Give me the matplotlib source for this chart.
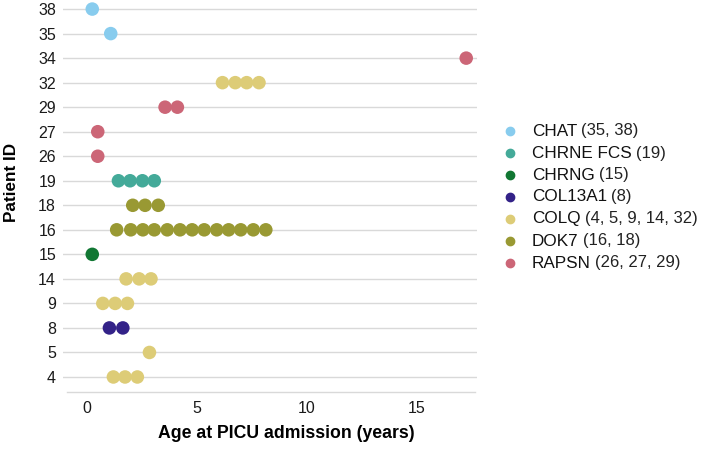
import matplotlib
matplotlib.use("Agg")
import matplotlib.pyplot as plt
from matplotlib.lines import Line2D

plt.rcParams['font.family'] = ['Liberation Sans', 'DejaVu Sans']

# Patient IDs (categorical y-axis, bottom to top)
patient_ids = ["4", "5", "8", "9", "14", "15", "16", "18", "19", "26", "27", "29", "32", "34", "35", "38"]

# Gene groups, legend labels, colours
genes = ["CHAT", "CHRNE FCS", "CHRNG", "COL13A1", "COLQ", "DOK7", "RAPSN"]
gene_labels = ["(35, 38)", "(19)", "(15)", "(8)", "(4, 5, 9, 14, 32)", "(16, 18)", "(26, 27, 29)"]
gene_colors = ["#88CCEE", "#44AA99", "#117733", "#332288", "#DDCC77", "#999933", "#CC6677"]

# Gene per patient
patient_gene = {
    "38": "CHAT", "35": "CHAT",
    "34": "RAPSN", "29": "RAPSN", "27": "RAPSN", "26": "RAPSN",
    "32": "COLQ", "14": "COLQ", "9": "COLQ", "5": "COLQ", "4": "COLQ",
    "19": "CHRNE FCS", "18": "DOK7", "16": "DOK7",
    "15": "CHRNG", "8": "COL13A1",
}

# Ages at PICU admission (years) per patient
ages_38 = [0.25]
ages_35 = [1.09]
ages_34 = [17.25]
ages_32 = [6.17, 6.75, 7.27, 7.83]
ages_29 = [3.56, 4.12]
ages_27 = [0.50]
ages_26 = [0.50]
ages_19 = [1.44, 1.97, 2.53, 3.07]
ages_18 = [2.09, 2.65, 3.25]
ages_16 = [1.36, 2.00, 2.55, 3.07, 3.66, 4.24, 4.79, 5.34, 5.91, 6.45, 7.00, 7.57, 8.14]
ages_15 = [0.25]
ages_14 = [1.79, 2.38, 2.92]
ages_9 = [0.73, 1.29, 1.85]
ages_8 = [1.03, 1.64]
ages_5 = [2.85]
ages_4 = [1.21, 1.74, 2.30]

patient_ages = {
    "38": ages_38, "35": ages_35, "34": ages_34, "32": ages_32, "29": ages_29,
    "27": ages_27, "26": ages_26, "19": ages_19, "18": ages_18, "16": ages_16,
    "15": ages_15, "14": ages_14, "9": ages_9, "8": ages_8, "5": ages_5, "4": ages_4,
}

x_ticks = [0, 5, 10, 15]

W, H = 704, 454
fig = plt.figure(figsize=(W / 100, H / 100), dpi=100)
ax_left, ax_right, ax_bottom = 63, 477, 391.7
ax = fig.add_axes([ax_left / W, 1 - ax_bottom / H, (ax_right - ax_left) / W, ax_bottom / H])

color_map = dict(zip(genes, gene_colors))
for i, pid in enumerate(patient_ids):
    ax.axhline(i, color="#d9d9d9", lw=1.0, zorder=0)
    ages = patient_ages[pid]
    ax.scatter(ages, [i] * len(ages), s=95, color=color_map[patient_gene[pid]],
               edgecolors="none", zorder=3, clip_on=False)

ax.set_yticks(range(len(patient_ids)))
ax.set_yticklabels(patient_ids)
ax.set_xticks(x_ticks)
ax.set_xlim(-1.08, 17.74)
ax.set_ylim(-0.6, 15.37)

for s in ["top", "right", "left"]:
    ax.spines[s].set_visible(False)
ax.spines["bottom"].set_color("#d9d9d9")
ax.spines["bottom"].set_linewidth(1.0)
ax.spines["bottom"].set_bounds(-0.9, 17.65)
ax.tick_params(axis="both", length=0, labelsize=11.5, colors="#1a1a1a")
ax.tick_params(axis="x", pad=7)
ax.tick_params(axis="y", pad=5)

ax.set_xlabel("Age at PICU admission (years)", fontsize=12.7, fontweight="bold", va="center")
ax.xaxis.set_label_coords((286 - ax_left) / (ax_right - ax_left), -(434 - ax_bottom) / ax_bottom)
ax.set_ylabel("Patient ID", fontsize=12.3, fontweight="bold", va="center")
ax.yaxis.set_label_coords((11 - ax_left) / (ax_right - ax_left), (ax_bottom - 182.5) / ax_bottom)

# Legend drawn manually
lx_marker = 510 / W
lx_text = 532 / W
y0 = 131
dy = 22
for k, (g, lab, c) in enumerate(zip(genes, gene_labels, gene_colors)):
    yy = 1 - (y0 + k * dy) / H
    fig.add_artist(Line2D([lx_marker], [yy], marker="o", markersize=6, color=c,
                          linestyle="none", transform=fig.transFigure))
    t = fig.text(lx_text, yy, g, fontsize=12.3, va="center", ha="left", color="#111111")
    fig.canvas.draw()
    bb = t.get_window_extent()
    fig.text((bb.x1 + 4) / W, yy, lab, fontsize=12, va="center", ha="left", color="#222222")

fig.savefig("out.png", dpi=100)
